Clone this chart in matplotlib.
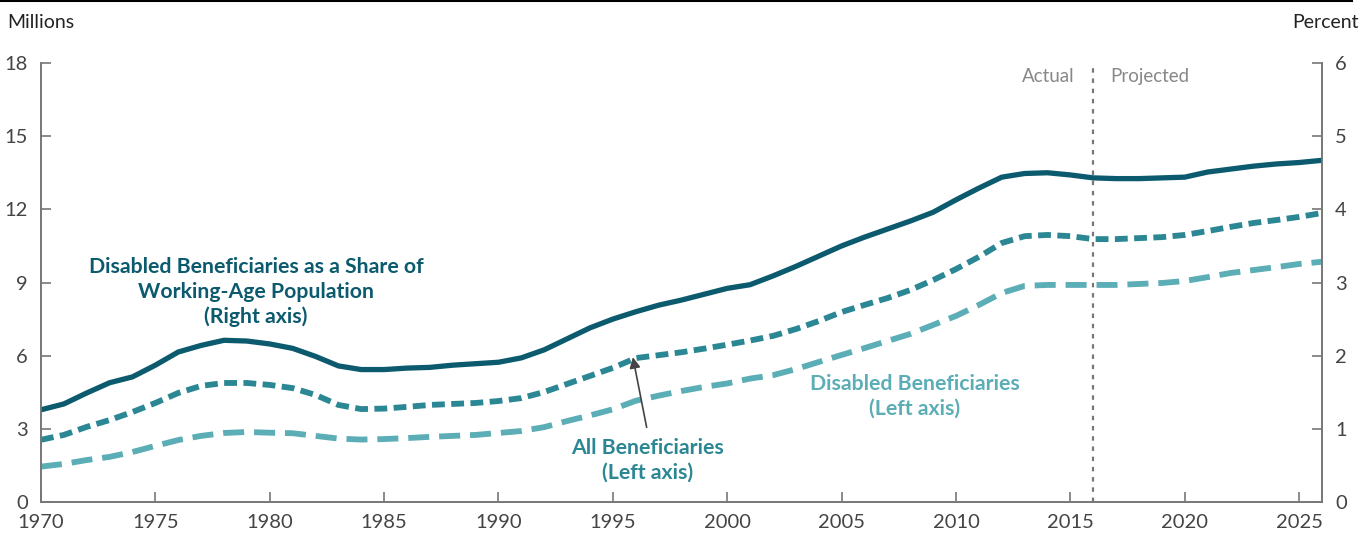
import matplotlib.pyplot as plt
import numpy as np

plt.rcParams['font.family'] = ['Lato', 'DejaVu Sans']

years = list(range(1970, 2027))

# percent of working-age population (right axis)
share_pct = [1.26, 1.34, 1.49, 1.63, 1.71, 1.87, 2.05, 2.14, 2.21, 2.20,
             2.16, 2.10, 1.99, 1.86, 1.81, 1.81, 1.83, 1.84, 1.87, 1.89,
             1.91, 1.97, 2.08, 2.23, 2.38, 2.50, 2.60, 2.69, 2.76, 2.84,
             2.92, 2.97, 3.09, 3.22, 3.36, 3.50, 3.62, 3.73, 3.84, 3.96,
             4.13, 4.29, 4.44, 4.49, 4.50, 4.47, 4.43, 4.42, 4.42, 4.43,
             4.44, 4.51, 4.55, 4.59, 4.62, 4.64, 4.67]

# millions (left axis)
all_benef = [2.55, 2.75, 3.08, 3.36, 3.69, 4.06, 4.47, 4.76, 4.88, 4.88,
             4.80, 4.67, 4.39, 3.98, 3.81, 3.83, 3.90, 3.98, 4.02, 4.06,
             4.14, 4.26, 4.51, 4.84, 5.17, 5.50, 5.90, 6.02, 6.14, 6.29,
             6.45, 6.62, 6.81, 7.09, 7.42, 7.79, 8.08, 8.36, 8.69, 9.10,
             9.55, 10.05, 10.62, 10.90, 10.95, 10.90, 10.78, 10.78, 10.82, 10.86,
             10.95, 11.11, 11.28, 11.44, 11.56, 11.69, 11.85]

disabled_benef = [1.45, 1.56, 1.72, 1.85, 2.05, 2.30, 2.54, 2.71, 2.83, 2.87,
                  2.84, 2.82, 2.71, 2.60, 2.56, 2.58, 2.62, 2.67, 2.71, 2.75,
                  2.83, 2.91, 3.07, 3.32, 3.55, 3.80, 4.15, 4.36, 4.55, 4.72,
                  4.86, 5.06, 5.20, 5.45, 5.74, 6.03, 6.31, 6.60, 6.89, 7.26,
                  7.63, 8.08, 8.57, 8.86, 8.90, 8.90, 8.90, 8.90, 8.94, 8.98,
                  9.06, 9.22, 9.39, 9.51, 9.63, 9.76, 9.85]

x_ticks = [1970, 1975, 1980, 1985, 1990, 1995, 2000, 2005, 2010, 2015, 2020, 2025]
proj_start = 2016.0

dark = '#0b5a6e'
mid = '#2b8793'
light = '#5badb6'
axis_col = '#777777'
txt_col = '#444444'

fig = plt.figure(figsize=(13.66, 5.4), dpi=100)
ax = fig.add_axes([0.030, 0.0704, 0.9378, 0.8129])
ax2 = ax.twinx()

# left axis series
ax.plot(years, disabled_benef, color=light, lw=4.2, dashes=(3.6, 1.7), dash_capstyle='butt')
ax.plot(years, all_benef, color=mid, lw=4.2, dashes=(2.2, 1.1), dash_capstyle='butt')
# right axis series
ax2.plot(years, share_pct, color=dark, lw=3.8, solid_capstyle='round')

ax.axvline(proj_start, color='#777777', lw=1.6, dashes=(2, 2.6))

ax.set_xlim(1970, 2026)
ax.set_ylim(0, 18)
ax2.set_ylim(0, 6)
ax.set_yticks(range(0, 19, 3))
ax2.set_yticks(range(0, 7))
ax.set_xticks(x_ticks)

for a in (ax, ax2):
    for s in a.spines.values():
        s.set_color(axis_col)
        s.set_linewidth(1.2)
    a.spines['top'].set_visible(False)
    a.tick_params(direction='in', length=7, width=1.2, color=axis_col,
                  labelsize=14.5, labelcolor=txt_col)
ax.tick_params(axis='y', pad=9.5)
ax.tick_params(axis='x', pad=9)
ax2.tick_params(axis='y', pad=9.5)

fig.text(0.005, 0.958, 'Millions', fontsize=14, color='#222222', va='center', ha='left')
fig.text(0.995, 0.958, 'Percent', fontsize=14, color='#222222', va='center', ha='right')

# top rule
fig.add_artist(plt.Line2D([0, 0.99], [0.999, 0.999], color='black', lw=1.5,
                          transform=fig.transFigure))

ax.text(proj_start - 0.8, 17.45, 'Actual', ha='right', va='center', fontsize=13.5, color='#888888')
ax.text(proj_start + 0.75, 17.45, 'Projected', ha='left', va='center', fontsize=13.5, color='#888888')

ax.text(1979.4, 8.61, 'Disabled Beneficiaries as a Share of\nWorking-Age Population\n(Right axis)',
        ha='center', va='center', fontsize=15.3, fontweight='bold', color=dark, linespacing=1.3)
ax.text(1996.53, 1.72, 'All Beneficiaries\n(Left axis)', ha='center', va='center',
        fontsize=15.3, fontweight='bold', color=mid, linespacing=1.3)
ax.text(2008.2, 4.35, 'Disabled Beneficiaries\n(Left axis)', ha='center', va='center',
        fontsize=15.3, fontweight='bold', color=light, linespacing=1.3)

ax.annotate('', xy=(1995.85, 6.05), xytext=(1996.5, 2.95),
            arrowprops=dict(arrowstyle='-|>', color='#444444', lw=1.2, mutation_scale=16))

fig.savefig('out.png', dpi=100)
